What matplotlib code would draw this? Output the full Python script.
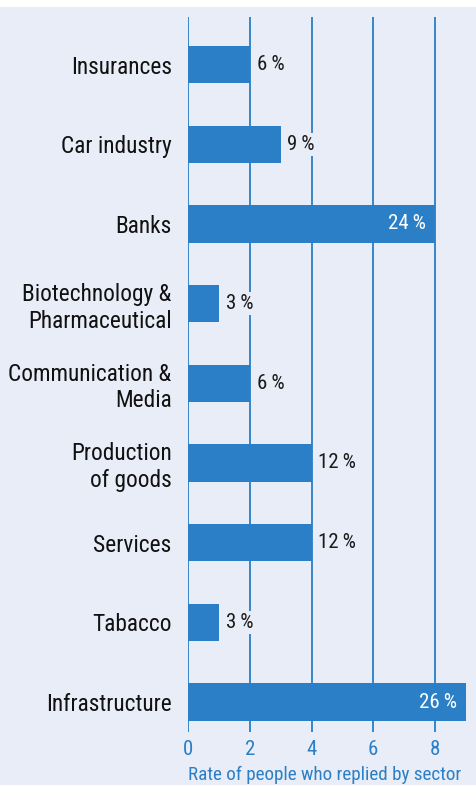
import matplotlib
matplotlib.use("Agg")
import matplotlib.pyplot as plt

sectors = ["Insurances", "Car industry", "Banks", "Biotechnology &\nPharmaceutical",
           "Communication &\nMedia", "Production\nof goods", "Services", "Tabacco",
           "Infrastructure"]
replies = [2, 3, 8, 1, 2, 4, 4, 1, 9]
ticks = [0, 2, 4, 6, 8]

total = sum(replies)
shares = [round(100 * r / total) for r in replies]

plt.rcParams["font.family"] = ["Roboto Condensed", "DejaVu Sans"]

bg = "#e9edf7"
blue = "#2a7fc6"

fig = plt.figure(figsize=(4.76, 7.85), dpi=100)
fig.patch.set_facecolor("white")
# light panel below the thin white strip at the top
fig.patches.append(plt.Rectangle((0, 0), 1, 1 - 7 / 785, transform=fig.transFigure,
                                 facecolor=bg, edgecolor="none", zorder=-10))

ax = fig.add_axes([188.3 / 476, 53 / 785, 1 - 188.3 / 476, (732 - 17) / 785])
ax.set_facecolor(bg)
ax.set_xlim(0, 9.34)
ax.set_ylim(8.376, -0.597)

ax.set_axisbelow(True)
ax.grid(axis="x", color=blue, linewidth=1.3)
ax.barh(range(len(sectors)), replies, height=0.47, color=blue, zorder=2)

for i, (r, s) in enumerate(zip(replies, shares)):
    txt = f"{s}\u2009%"
    if r >= 8:
        ax.text(r - 0.28, i, txt, ha="right", va="center", color="white", fontsize=15)
    else:
        ax.text(r + 0.22, i, txt, ha="left", va="center", color="#1a1a1a", fontsize=15,
                bbox=dict(facecolor=bg, edgecolor="none", pad=1.5), zorder=3)

ax.set_yticks(range(len(sectors)))
ax.set_yticklabels(sectors, fontsize=16.8, color="#111111", linespacing=1.2)
ax.set_xticks(ticks)
ax.set_xticklabels([str(t) for t in ticks], fontsize=15, color=blue)
ax.tick_params(axis="both", length=0)
ax.tick_params(axis="y", pad=12)
ax.tick_params(axis="x", pad=6)
for sp in ax.spines.values():
    sp.set_visible(False)

ax.set_xlabel("Rate of people who replied by sector", fontsize=13.8, color=blue,
              loc="left", labelpad=5)

fig.savefig("out.png", dpi=100, facecolor=fig.get_facecolor())
